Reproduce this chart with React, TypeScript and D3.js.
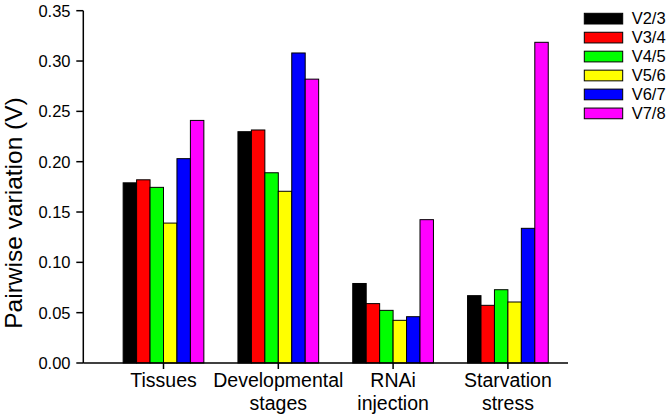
import React from "react";
import * as d3 from "d3";

const categories = ["Tissues", "Developmental stages", "RNAi injection", "Starvation stress"];
const categoryLines = [["Tissues"], ["Developmental", "stages"], ["RNAi", "injection"], ["Starvation", "stress"]];
const seriesNames = ["V2/3", "V3/4", "V4/5", "V5/6", "V6/7", "V7/8"];
const seriesColors = ["#000000", "#ff0000", "#00ff00", "#ffff00", "#0000ff", "#ff00ff"];
// values[category][series]
const tissuesValues = [0.179, 0.182, 0.1745, 0.139, 0.203, 0.241];
const developmentalValues = [0.2298, 0.2315, 0.189, 0.1706, 0.308, 0.282];
const rnaiValues = [0.079, 0.059, 0.0523, 0.0424, 0.046, 0.1424];
const starvationValues = [0.0669, 0.0573, 0.0728, 0.0606, 0.1338, 0.3186];
const values = [tissuesValues, developmentalValues, rnaiValues, starvationValues];
const yTicks = [0, 0.05, 0.1, 0.15, 0.2, 0.25, 0.3, 0.35];

const FONT = "'Liberation Sans', Arial, sans-serif";

export default function App() {
  const W = 669, H = 419;
  const axisLeft = 83.3, axisRight = 568, y0 = 363, yTop = 10.7;
  const y = d3.scaleLinear().domain([0, 0.35]).range([y0, yTop]);
  const x0 = d3.scaleBand<string>().domain(categories).range([106.1, 565.3]).paddingInner(0.297).paddingOuter(0.1485);
  const x1 = d3.scaleBand<string>().domain(seriesNames).range([0, x0.bandwidth()]);

  return (
    <div style={{ position: "absolute", left: 0, top: 0 }}>
      <svg width={W} height={H} style={{ display: "block", background: "#fff" }} fontFamily={FONT}>
        <rect x={0} y={0} width={W} height={H} fill="#fff" />
        {/* bars */}
        {categories.map((c, ci) => (
          <g key={c} transform={`translate(${x0(c)},0)`}>
            {seriesNames.map((s, si) => {
              const v = values[ci][si];
              return (
                <rect key={s} x={x1(s)!} y={y(v)} width={x1.bandwidth()} height={y0 - y(v)}
                  fill={seriesColors[si]} stroke="#000" strokeWidth={1} />
              );
            })}
          </g>
        ))}
        {/* y axis */}
        <line x1={axisLeft} x2={axisLeft} y1={yTop} y2={y0} stroke="#000" strokeWidth={1.5} />
        {yTicks.map((t) => (
          <g key={t}>
            <line x1={axisLeft - 7} x2={axisLeft} y1={y(t)} y2={y(t)} stroke="#000" strokeWidth={1.5} />
            <text x={70.5} y={y(t)} dy="0.36em" textAnchor="end" fontSize={16.5} fill="#000">{t.toFixed(2)}</text>
          </g>
        ))}
        {/* x axis */}
        <line x1={axisLeft} x2={axisRight} y1={y0} y2={y0} stroke="#000" strokeWidth={1.5} />
        {categories.map((c, ci) => {
          const cx = x0(c)! + x0.bandwidth() / 2;
          return (
            <g key={c}>
              <line x1={cx} x2={cx} y1={y0} y2={y0 + 6} stroke="#000" strokeWidth={1.5} />
              {categoryLines[ci].map((ln, li) => (
                <text key={li} x={cx} y={387 + li * 23} textAnchor="middle" fontSize={19.5} fill="#000">{ln}</text>
              ))}
            </g>
          );
        })}
        {/* y label */}
        <text transform="translate(22,213) rotate(-90)" textAnchor="middle" fontSize={24.5} fill="#000">Pairwise variation (V)</text>
        {/* legend */}
        {seriesNames.map((s, si) => (
          <g key={s} transform={`translate(584.3,${13.3 + si * 18.95})`}>
            <rect x={0} y={0} width={38.4} height={10.7} fill={seriesColors[si]} stroke="#000" strokeWidth={1} />
            <text x={47.4} y={11} fontSize={16.5} fill="#000">{s}</text>
          </g>
        ))}
      </svg>
    </div>
  );
}
